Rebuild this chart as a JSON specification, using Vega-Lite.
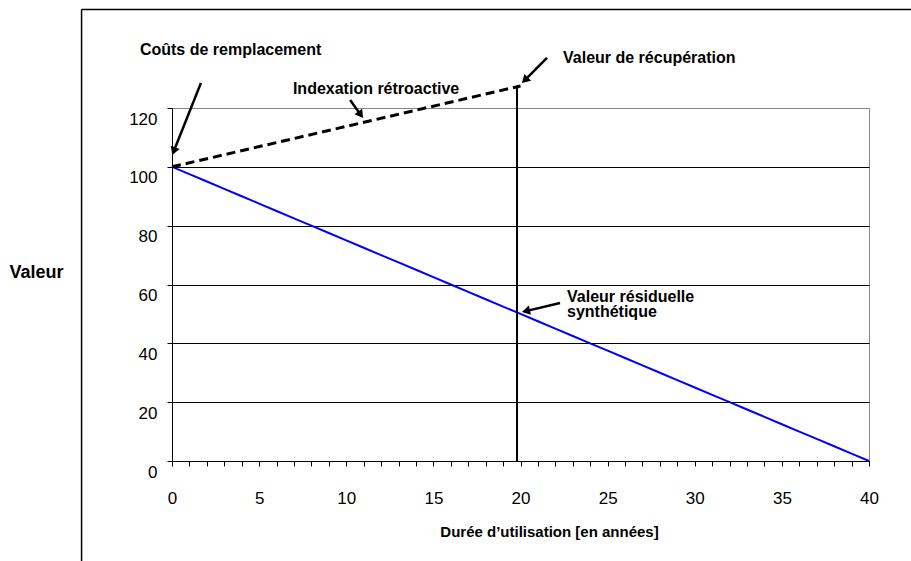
{
  "$schema": "https://vega.github.io/schema/vega-lite/v6.json",
  "width": 697,
  "height": 353,
  "autosize": "none",
  "padding": {"left": 172, "top": 108, "right": 42, "bottom": 100},
  "background": "white",
  "config": {
    "view": {"stroke": "#888888", "strokeWidth": 1},
    "font": "Liberation Sans"
  },
  "datasets": {
    "residual": [
      {"annee": 0, "valeur": 100}, {"annee": 1, "valeur": 97.5}, {"annee": 2, "valeur": 95},
      {"annee": 3, "valeur": 92.5}, {"annee": 4, "valeur": 90}, {"annee": 5, "valeur": 87.5},
      {"annee": 6, "valeur": 85}, {"annee": 7, "valeur": 82.5}, {"annee": 8, "valeur": 80},
      {"annee": 9, "valeur": 77.5}, {"annee": 10, "valeur": 75}, {"annee": 11, "valeur": 72.5},
      {"annee": 12, "valeur": 70}, {"annee": 13, "valeur": 67.5}, {"annee": 14, "valeur": 65},
      {"annee": 15, "valeur": 62.5}, {"annee": 16, "valeur": 60}, {"annee": 17, "valeur": 57.5},
      {"annee": 18, "valeur": 55}, {"annee": 19, "valeur": 52.5}, {"annee": 20, "valeur": 50},
      {"annee": 21, "valeur": 47.5}, {"annee": 22, "valeur": 45}, {"annee": 23, "valeur": 42.5},
      {"annee": 24, "valeur": 40}, {"annee": 25, "valeur": 37.5}, {"annee": 26, "valeur": 35},
      {"annee": 27, "valeur": 32.5}, {"annee": 28, "valeur": 30}, {"annee": 29, "valeur": 27.5},
      {"annee": 30, "valeur": 25}, {"annee": 31, "valeur": 22.5}, {"annee": 32, "valeur": 20},
      {"annee": 33, "valeur": 17.5}, {"annee": 34, "valeur": 15}, {"annee": 35, "valeur": 12.5},
      {"annee": 36, "valeur": 10}, {"annee": 37, "valeur": 7.5}, {"annee": 38, "valeur": 5},
      {"annee": 39, "valeur": 2.5}, {"annee": 40, "valeur": 0}
    ],
    "indexation": [
      {"annee": 0, "valeur": 100},
      {"annee": 20, "valeur": 127.5}
    ],
    "vertical": [
      {"annee": 19.8, "bas": 0, "haut": 127.5}
    ],
    "arrows": [
      {"id": "couts", "x": 1.66, "y": 128.5, "x2": 0.1, "y2": 105.3},
      {"id": "index", "x": 10.22, "y": 122.7, "x2": 10.83, "y2": 117.7},
      {"id": "recup", "x": 21.52, "y": 137.0, "x2": 20.25, "y2": 129.45},
      {"id": "resid", "x": 22.27, "y": 53.7, "x2": 20.31, "y2": 50.96}
    ],
    "labels": [
      {"texte": "Coûts de remplacement", "x": -1.84, "y": 139.7},
      {"texte": "Indexation rétroactive", "x": 6.94, "y": 126.5},
      {"texte": "Valeur de récupération", "x": 22.44, "y": 137.0},
      {"texte": "Valeur résiduelle", "x": 22.67, "y": 55.9},
      {"texte": "synthétique", "x": 22.67, "y": 50.5}
    ],
    "frame": [
      {"x": -5.19, "y": 153.5, "x2": 45, "y2": 153.5},
      {"x": -5.19, "y": 153.5, "x2": -5.19, "y2": -35}
    ]
  },
  "layer": [
    {
      "data": {"name": "residual"},
      "mark": {"type": "line", "color": "#0000ff", "strokeWidth": 2},
      "encoding": {
        "x": {
          "field": "annee", "type": "quantitative",
          "scale": {"domain": [0, 40], "nice": false, "zero": false},
          "axis": {
            "values": [0,1,2,3,4,5,6,7,8,9,10,11,12,13,14,15,16,17,18,19,20,21,22,23,24,25,26,27,28,29,30,31,32,33,34,35,36,37,38,39,40],
            "tickCount": 100,
            "format": "d",
            "labelExpr": "datum.value % 5 == 0 ? datum.label : ''",
            "grid": false,
            "domainColor": "#000000",
            "tickColor": "#000000",
            "tickSize": 5,
            "labelFontSize": 17,
            "labelColor": "#000000",
            "labelBaseline": "middle",
            "labelPadding": 32,
            "labelFlush": false,
            "labelOverlap": false,
            "title": "Durée d’utilisation [en années]",
            "titleFontSize": 15,
            "titleFontWeight": "bold",
            "titleColor": "#000000",
            "titleAlign": "center",
            "titleBaseline": "middle",
            "titleX": 377,
            "titleY": 70
          }
        },
        "y": {
          "field": "valeur", "type": "quantitative",
          "scale": {"domain": [0, 120], "nice": false},
          "axis": {
            "values": [0, 20, 40, 60, 80, 100, 120],
            "format": "d",
            "grid": true,
            "gridColor": {"condition": {"test": "datum.value == 120", "value": "#888888"}, "value": "#000000"},
            "gridOpacity": 1,
            "domainColor": "#000000",
            "tickColor": "#000000",
            "tickSize": 5,
            "labelFontSize": 17,
            "labelColor": "#000000",
            "labelPadding": 10,
            "labelOffset": 11,
            "labelBaseline": "middle",
            "title": "Valeur",
            "titleAngle": 0,
            "titleFontSize": 18,
            "titleFontWeight": "bold",
            "titleColor": "#000000",
            "titleAlign": "center",
            "titleBaseline": "middle",
            "titleX": -136,
            "titleY": 164
          }
        }
      }
    },
    {
      "data": {"name": "indexation"},
      "mark": {"type": "line", "color": "#000000", "strokeWidth": 3, "strokeDash": [9, 5]},
      "encoding": {
        "x": {"field": "annee", "type": "quantitative"},
        "y": {"field": "valeur", "type": "quantitative"}
      }
    },
    {
      "data": {"name": "vertical"},
      "mark": {"type": "rule", "color": "#000000", "strokeWidth": 2},
      "encoding": {
        "x": {"field": "annee", "type": "quantitative"},
        "y": {"field": "bas", "type": "quantitative"},
        "y2": {"field": "haut"}
      }
    },
    {
      "data": {"name": "frame"},
      "mark": {"type": "rule", "color": "#000000", "strokeWidth": 1.5},
      "encoding": {
        "x": {"field": "x", "type": "quantitative"},
        "y": {"field": "y", "type": "quantitative"},
        "x2": {"field": "x2"},
        "y2": {"field": "y2"}
      }
    },
    {
      "data": {"name": "arrows"},
      "mark": {"type": "rule", "color": "#000000", "strokeWidth": 2.5},
      "encoding": {
        "x": {"field": "x", "type": "quantitative"},
        "y": {"field": "y", "type": "quantitative"},
        "x2": {"field": "x2"},
        "y2": {"field": "y2"}
      }
    },
    {
      "data": {"name": "arrows"},
      "transform": [{"filter": "datum.id == 'couts'"}],
      "mark": {"type": "point", "shape": "triangle-up", "filled": true, "color": "#000000", "size": 90, "angle": 201, "opacity": 1},
      "encoding": {
        "x": {"field": "x2", "type": "quantitative"},
        "y": {"field": "y2", "type": "quantitative"}
      }
    },
    {
      "data": {"name": "arrows"},
      "transform": [{"filter": "datum.id == 'index'"}],
      "mark": {"type": "point", "shape": "triangle-up", "filled": true, "color": "#000000", "size": 90, "angle": 144, "opacity": 1},
      "encoding": {
        "x": {"field": "x2", "type": "quantitative"},
        "y": {"field": "y2", "type": "quantitative"}
      }
    },
    {
      "data": {"name": "arrows"},
      "transform": [{"filter": "datum.id == 'recup'"}],
      "mark": {"type": "point", "shape": "triangle-up", "filled": true, "color": "#000000", "size": 90, "angle": 225, "opacity": 1},
      "encoding": {
        "x": {"field": "x2", "type": "quantitative"},
        "y": {"field": "y2", "type": "quantitative"}
      }
    },
    {
      "data": {"name": "arrows"},
      "transform": [{"filter": "datum.id == 'resid'"}],
      "mark": {"type": "point", "shape": "triangle-up", "filled": true, "color": "#000000", "size": 90, "angle": 257, "opacity": 1},
      "encoding": {
        "x": {"field": "x2", "type": "quantitative"},
        "y": {"field": "y2", "type": "quantitative"}
      }
    },
    {
      "data": {"name": "labels"},
      "mark": {"type": "text", "align": "left", "baseline": "middle", "fontSize": 16, "fontWeight": "bold", "color": "#000000"},
      "encoding": {
        "x": {"field": "x", "type": "quantitative"},
        "y": {"field": "y", "type": "quantitative"},
        "text": {"field": "texte"}
      }
    }
  ]
}
